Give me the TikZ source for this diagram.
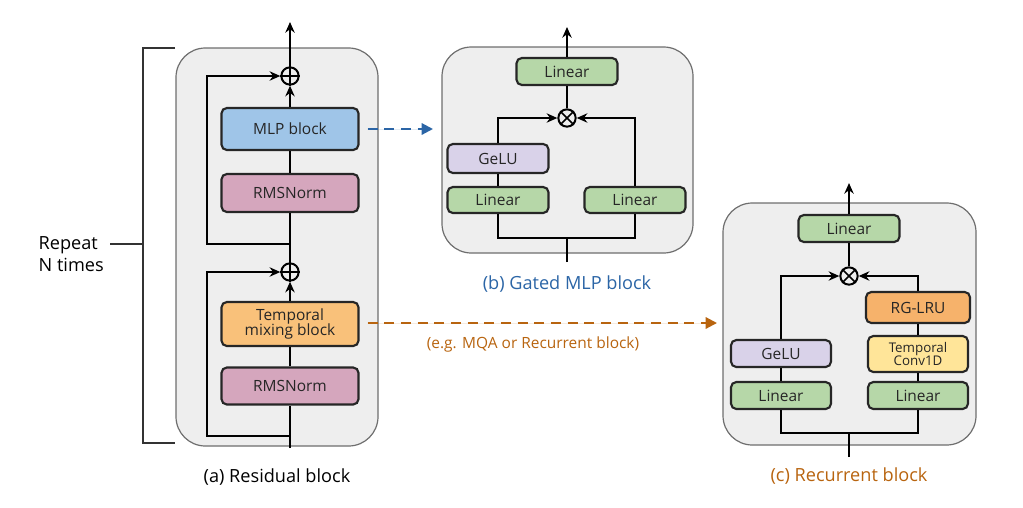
\documentclass[tikz,border=0pt]{standalone}
\usepackage{fontspec}
\setmainfont{Open Sans}
\usetikzlibrary{arrows.meta}
\definecolor{panelfill}{HTML}{EEEEEE}
\definecolor{panelline}{HTML}{6E6E6E}
\definecolor{cblue}{HTML}{9FC5E8}
\definecolor{cpink}{HTML}{D5A6BD}
\definecolor{corange}{HTML}{F9C17A}
\definecolor{cgreen}{HTML}{B6D7A8}
\definecolor{cpurple}{HTML}{D9D2E9}
\definecolor{crglru}{HTML}{F6B26B}
\definecolor{cyellow}{HTML}{FFE599}
\definecolor{lblue}{HTML}{2B65A6}
\definecolor{lorange}{HTML}{B8640F}
\begin{document}
\begin{tikzpicture}[x=0.75pt,y=-0.75pt,
  panel/.style={draw=panelline,fill=panelfill,line width=0.9pt,rounded corners=22pt},
  blk/.style={draw=black!85,line width=1.6pt,rounded corners=4pt,inner sep=0pt,
     font=\fontsize{11.6}{13}\selectfont,align=center,text=black!85},
  wire/.style={line width=1.7pt,draw=black},
  arr/.style={wire,-{Stealth[length=8pt,width=7pt]}},
  opnode/.style={circle,draw=black,line width=1.5pt,minimum size=13pt,inner sep=0pt,fill=panelfill},
  lbl/.style={font=\fontsize{13.6}{16}\selectfont},
  dasharr/.style={line width=1.6pt,dash pattern=on 7.5pt off 5pt,-{Triangle[length=8.5pt,width=8.5pt]}}
]
\useasboundingbox (0,0) rectangle (1023,507);

% ---------- (a) Residual block ----------
\draw[panel] (176,48) rectangle (378,446);
\draw[line width=0.8pt,draw=black!80] (175,48) -| (143,443) -- (175,443);
\draw[line width=0.8pt,draw=black!80] (110,244) -- (143,244);
\node[lbl,anchor=west,align=left] (rep) at (34,254) {Repeat\\N times};

\node[blk,fill=cblue,minimum width=137*0.75pt,minimum height=42*0.75pt] (mlp) at (290,129) {MLP block};
\node[blk,fill=cpink,minimum width=137*0.75pt,minimum height=38*0.75pt] (rms1) at (290,193) {RMSNorm};
\node[blk,fill=corange,minimum width=137*0.75pt,minimum height=44*0.75pt] (tmb) at (290,324) {Temporal\\[-2pt]mixing block};
\node[blk,fill=cpink,minimum width=137*0.75pt,minimum height=37*0.75pt] (rms2) at (290,386) {RMSNorm};
\node[opnode] (pa1) at (290,76) {};
\node[opnode] (pa2) at (290,272) {};
\draw[line width=1.3pt] (pa1.north) -- (pa1.south) (pa1.west) -- (pa1.east);
\draw[line width=1.3pt] (pa2.north) -- (pa2.south) (pa2.west) -- (pa2.east);
\coordinate (ain) at (290,448);
\coordinate (atop) at (290,22);
\coordinate (sk1) at (290,244);
\coordinate (sk2) at (290,436);

\draw[wire] (ain) -- (rms2);
\draw[wire] (rms2) -- (tmb);
\draw[arr] (tmb) -- (pa2);
\draw[wire] (pa2) -- (rms1);
\draw[wire] (rms1) -- (mlp);
\draw[arr] (mlp) -- (pa1);
\draw[arr] (pa1) -- (atop);
\draw[arr] (sk2) -- ++(-83,0) |- (pa2);
\draw[arr] (sk1) -- ++(-83,0) |- (pa1);

\node[lbl] (la) at (277,477) {(a) Residual block};

% ---------- (b) Gated MLP block ----------
\draw[panel] (442,47) rectangle (693,253);
\node[blk,fill=cgreen,minimum width=101*0.75pt,minimum height=27*0.75pt] (linB) at (567,71.5) {Linear};
\node[blk,fill=cpurple,minimum width=101*0.75pt,minimum height=29*0.75pt] (gelB) at (498,158.5) {GeLU};
\node[blk,fill=cgreen,minimum width=101*0.75pt,minimum height=26*0.75pt] (linBL) at (498,200) {Linear};
\node[blk,fill=cgreen,minimum width=101*0.75pt,minimum height=26*0.75pt] (linBR) at (635,200) {Linear};
\node[opnode] (otB) at (567,118) {};
\draw[line width=1.3pt] (otB.north west) -- (otB.south east) (otB.north east) -- (otB.south west);
\coordinate (bin) at (567,262);
\coordinate (bjoin) at (567,238);
\coordinate (btop) at (567,27);
\draw[wire] (bin) -- (bjoin);
\draw[wire] (linBL.south) |- (bjoin) -| (linBR.south);
\draw[wire] (linBL) -- (gelB);
\draw[arr] (gelB.north) |- (otB);
\draw[arr] (linBR.north) |- (otB);
\draw[wire] (otB) -- (linB);
\draw[arr] (linB) -- (btop);
\node[lbl,text=lblue] (lb) at (567,284) {(b) Gated MLP block};

% ---------- (c) Recurrent block ----------
\draw[panel] (723,203) rectangle (976,445);
\node[blk,fill=cgreen,minimum width=101*0.75pt,minimum height=27*0.75pt] (linC) at (849,228.5) {Linear};
\node[blk,fill=crglru,minimum width=104*0.75pt,minimum height=31*0.75pt] (rglru) at (918,307.5) {RG-LRU};
\node[blk,fill=cyellow,minimum width=100*0.75pt,minimum height=36*0.75pt,font=\fontsize{10}{11}\selectfont] (tconv) at (918,354) {Temporal\\[-1pt]Conv1D};
\node[blk,fill=cgreen,minimum width=100*0.75pt,minimum height=27*0.75pt] (linCR) at (918,395.5) {Linear};
\node[blk,fill=cpurple,minimum width=100*0.75pt,minimum height=27*0.75pt] (gelC) at (781,353.5) {GeLU};
\node[blk,fill=cgreen,minimum width=100*0.75pt,minimum height=27*0.75pt] (linCL) at (781,395.5) {Linear};
\node[opnode] (otC) at (849,276) {};
\draw[line width=1.3pt] (otC.north west) -- (otC.south east) (otC.north east) -- (otC.south west);
\coordinate (cin) at (849,457);
\coordinate (cjoin) at (849,433);
\coordinate (ctop) at (849,183);
\draw[wire] (cin) -- (cjoin);
\draw[wire] (linCL.south) |- (cjoin) -| (linCR.south);
\draw[wire] (linCL) -- (gelC);
\draw[wire] (linCR) -- (tconv);
\draw[wire] (tconv) -- (rglru);
\draw[arr] (gelC.north) |- (otC);
\draw[arr] (rglru.north) |- (otC);
\draw[wire] (otC) -- (linC);
\draw[arr] (linC) -- (ctop);
\node[lbl,text=lorange] (lc) at (849,476) {(c) Recurrent block};

% ---------- dashed connectors ----------
\coordinate (bdst) at (433,129);
\coordinate (cdst) at (717,323);
\draw[dasharr,draw=lblue,fill=lblue,shorten <=6pt] (mlp.east) -- (bdst);
\draw[dasharr,draw=lorange,fill=lorange,shorten <=6pt] (tmb.east |- cdst) -- (cdst);
\node[font=\fontsize{11.6}{13}\selectfont,text=lorange] (eg) at (533,344) {(e.g. MQA or Recurrent block)};
\end{tikzpicture}
\end{document}
